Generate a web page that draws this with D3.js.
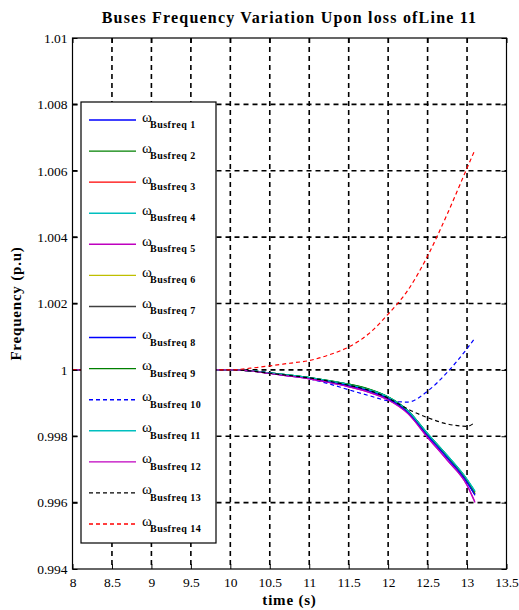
<!DOCTYPE html>
<html>
<head>
<meta charset="utf-8">
<script src="https://cdn.jsdelivr.net/npm/d3@7"></script>
<style>
  body { margin: 0; background: #fff; }
  svg text { font-family: "Liberation Serif", "Times New Roman", serif; fill: #000; }
  .axis text { font-size: 13.5px; }
  .axis line { stroke: #000; }
  .axis path { display: none; }
  .grid line { stroke: #000; stroke-width: 1.6; stroke-dasharray: 5,4; }
  .title { font-size: 16px; font-weight: bold; letter-spacing: 1.2px; }
  .axis-label { font-size: 15px; font-weight: bold; letter-spacing: 0.8px; }
  .leg-omega { font-size: 15px; }
  .leg-sub { font-size: 10px; font-weight: bold; letter-spacing: 0.5px; }
</style>
</head>
<body>
<svg id="chart" width="519" height="610"></svg>
<script>
// time axis samples (s)
const TIME = [8, 9, 10, 10.25, 10.5, 10.75, 11, 11.25, 11.5, 11.75, 12, 12.25, 12.5, 12.75, 13, 13.1];

// bus frequency (p.u)
const BUS1  = [1, 1, 1, 0.99997, 0.9999, 0.99983, 0.99975, 0.99965, 0.99952, 0.99937, 0.99914, 0.99873, 0.99803, 0.99735, 0.99662, 0.99624];
const BUS2  = [1, 1, 1, 0.99997, 0.99991, 0.99984, 0.99977, 0.99968, 0.99957, 0.99942, 0.99918, 0.99877, 0.99807, 0.9974, 0.99668, 0.99632];
const BUS3  = [1, 1, 1, 0.99997, 0.9999, 0.99983, 0.99976, 0.99966, 0.99954, 0.99939, 0.99916, 0.99875, 0.99805, 0.99738, 0.99665, 0.99627];
const BUS4  = [1, 1, 1, 0.99997, 0.99991, 0.99984, 0.99977, 0.99967, 0.99956, 0.99941, 0.99918, 0.99877, 0.99808, 0.99742, 0.9967, 0.99635];
const BUS5  = [1, 1, 1, 0.99997, 0.99989, 0.99981, 0.99973, 0.99962, 0.99949, 0.99933, 0.9991, 0.99869, 0.99797, 0.99728, 0.99653, 0.99603];
const BUS6  = [1, 1, 1, 0.99997, 0.9999, 0.99983, 0.99976, 0.99966, 0.99954, 0.99939, 0.99916, 0.99875, 0.99805, 0.99737, 0.99664, 0.99626];
const BUS7  = [1, 1, 1, 0.99997, 0.9999, 0.99983, 0.99976, 0.99966, 0.99953, 0.99938, 0.99915, 0.99874, 0.99804, 0.99737, 0.99664, 0.99626];
const BUS8  = [1, 1, 1, 0.99997, 0.9999, 0.99982, 0.99975, 0.99964, 0.99952, 0.99937, 0.99913, 0.99872, 0.99802, 0.99734, 0.99661, 0.99622];
const BUS9  = [1, 1, 1, 0.99997, 0.99991, 0.99984, 0.99977, 0.99968, 0.99957, 0.99943, 0.99919, 0.99878, 0.99808, 0.99741, 0.99669, 0.99631];
const BUS10 = [1, 1, 1, 0.99997, 0.99991, 0.99983, 0.99973, 0.99958, 0.9994, 0.99923, 0.99907, 0.99903, 0.99936, 0.99993, 1.00064, 1.00096];
const BUS11 = [1, 1, 1, 0.99997, 0.99991, 0.99984, 0.99977, 0.99967, 0.99956, 0.99941, 0.99918, 0.99877, 0.99808, 0.99742, 0.9967, 0.99634];
const BUS12 = [1, 1, 1, 0.99997, 0.99989, 0.99981, 0.99973, 0.99962, 0.99949, 0.99933, 0.99909, 0.99868, 0.99796, 0.99727, 0.99652, 0.996];
const BUS13 = [1, 1, 1, 0.99997, 0.9999, 0.99983, 0.99976, 0.99966, 0.99954, 0.99939, 0.99915, 0.99882, 0.99856, 0.99837, 0.9983, 0.99842];
const BUS14 = [1, 1, 1, 1.00005, 1.00012, 1.0002, 1.00028, 1.00045, 1.00069, 1.00108, 1.00168, 1.0024, 1.00343, 1.0047, 1.00608, 1.00663];

const SERIES = [BUS1, BUS2, BUS3, BUS4, BUS5, BUS6, BUS7, BUS8, BUS9, BUS10, BUS11, BUS12, BUS13, BUS14];
const SERIES_NAMES = ['Busfreq 1', 'Busfreq 2', 'Busfreq 3', 'Busfreq 4', 'Busfreq 5', 'Busfreq 6', 'Busfreq 7',
  'Busfreq 8', 'Busfreq 9', 'Busfreq 10', 'Busfreq 11', 'Busfreq 12', 'Busfreq 13', 'Busfreq 14'];

const X_TICKS = [8, 8.5, 9, 9.5, 10, 10.5, 11, 11.5, 12, 12.5, 13, 13.5];
const X_TICK_LABELS = ['8', '8.5', '9', '9.5', '10', '10.5', '11', '11.5', '12', '12.5', '13', '13.5'];
const Y_TICKS = [0.994, 0.996, 0.998, 1, 1.002, 1.004, 1.006, 1.008, 1.01];
const Y_TICK_LABELS = ['0.994', '0.996', '0.998', '1', '1.002', '1.004', '1.006', '1.008', '1.01'];

// line styles (matlab-ish colour order)
const LINE_COLORS = ['#0000ff', '#008000', '#ff0000', '#00bfbf', '#bf00bf', '#bfbf00', '#404040',
  '#0000ff', '#008000', '#0000ff', '#00bfbf', '#bf00bf', '#000000', '#ff0000'];
const LINE_DASHED = [false, false, false, false, false, false, false, false, false, true, false, false, true, true];

const PLOT = { left: 72.5, right: 506.5, top: 38, bottom: 569 };

const svg = d3.select('#chart');

const x = d3.scaleLinear().domain([8, 13.5]).range([PLOT.left, PLOT.right]);
const y = d3.scaleLinear().domain([0.994, 1.01]).range([PLOT.bottom, PLOT.top]);

svg.append('defs').append('clipPath').attr('id', 'plot-clip')
  .append('rect')
  .attr('x', PLOT.left).attr('y', PLOT.top)
  .attr('width', PLOT.right - PLOT.left).attr('height', PLOT.bottom - PLOT.top);

// Grid
const grid = svg.append('g').attr('class', 'grid');
grid.selectAll('.vg')
  .data(X_TICKS.slice(1, -1))
  .join('line')
  .attr('x1', d => x(d)).attr('x2', d => x(d))
  .attr('y1', PLOT.top).attr('y2', PLOT.bottom);
grid.selectAll('.hg')
  .data(Y_TICKS.slice(1, -1))
  .join('line')
  .attr('y1', d => y(d)).attr('y2', d => y(d))
  .attr('x1', PLOT.left).attr('x2', PLOT.right);

// Curves
const line = d3.line()
  .x((d, i) => x(TIME[i]))
  .y(d => y(d))
  .curve(d3.curveMonotoneX);

const curves = svg.append('g').attr('clip-path', 'url(#plot-clip)');
SERIES.forEach((vals, i) => {
  curves.append('path')
    .datum(vals)
    .attr('d', line)
    .attr('fill', 'none')
    .attr('stroke', LINE_COLORS[i])
    .attr('stroke-width', 1.2)
    .attr('stroke-dasharray', LINE_DASHED[i] ? '4,3' : null);
});

// Axes, ticks pointing inward on all four sides
const xLabel = d => X_TICK_LABELS[X_TICKS.indexOf(d)];
const yLabel = d => Y_TICK_LABELS[Y_TICKS.indexOf(d)];

svg.append('g')
  .attr('class', 'axis')
  .attr('transform', `translate(0,${PLOT.bottom})`)
  .call(d3.axisBottom(x).tickValues(X_TICKS).tickFormat(xLabel).tickSizeInner(-5).tickSizeOuter(0).tickPadding(8));

svg.append('g')
  .attr('class', 'axis')
  .attr('transform', `translate(0,${PLOT.top})`)
  .call(d3.axisTop(x).tickValues(X_TICKS).tickFormat('').tickSizeInner(-5).tickSizeOuter(0));

svg.append('g')
  .attr('class', 'axis')
  .attr('transform', `translate(${PLOT.left},0)`)
  .call(d3.axisLeft(y).tickValues(Y_TICKS).tickFormat(yLabel).tickSizeInner(-5).tickSizeOuter(0).tickPadding(5));

svg.append('g')
  .attr('class', 'axis')
  .attr('transform', `translate(${PLOT.right},0)`)
  .call(d3.axisRight(y).tickValues(Y_TICKS).tickFormat('').tickSizeInner(-5).tickSizeOuter(0));

svg.append('rect')
  .attr('x', PLOT.left).attr('y', PLOT.top)
  .attr('width', PLOT.right - PLOT.left).attr('height', PLOT.bottom - PLOT.top)
  .attr('fill', 'none').attr('stroke', '#000').attr('stroke-width', 1.2);

// Titles
const midX = (PLOT.left + PLOT.right) / 2;
svg.append('text')
  .attr('class', 'title')
  .attr('x', midX).attr('y', 23)
  .attr('text-anchor', 'middle')
  .text('Buses Frequency Variation Upon loss ofLine 11');

svg.append('text')
  .attr('class', 'axis-label')
  .attr('x', midX).attr('y', 605)
  .attr('text-anchor', 'middle')
  .text('time (s)');

svg.append('text')
  .attr('class', 'axis-label')
  .attr('transform', `translate(21,${(PLOT.top + PLOT.bottom) / 2}) rotate(-90)`)
  .attr('text-anchor', 'middle')
  .text('Frequency (p.u)');

// Legend
const legend = svg.append('g');
legend.append('rect')
  .attr('x', 81).attr('y', 102)
  .attr('width', 135).attr('height', 441)
  .attr('fill', '#fff').attr('stroke', '#000').attr('stroke-width', 1.2);

const ly = d3.scaleLinear().domain([0, SERIES.length - 1]).range([120, 524]);

const items = legend.selectAll('.item')
  .data(SERIES_NAMES)
  .join('g')
  .attr('transform', (d, i) => `translate(0,${ly(i)})`);

items.append('line')
  .attr('x1', 89).attr('x2', 136)
  .attr('stroke', (d, i) => LINE_COLORS[i])
  .attr('stroke-width', 1.4)
  .attr('stroke-dasharray', (d, i) => LINE_DASHED[i] ? '4,3' : null);

items.append('text')
  .attr('class', 'leg-omega')
  .attr('x', 142).attr('y', 1.5)
  .text('ω');

items.append('text')
  .attr('class', 'leg-sub')
  .attr('x', 150).attr('y', 8)
  .text(d => d);
</script>
</body>
</html>
